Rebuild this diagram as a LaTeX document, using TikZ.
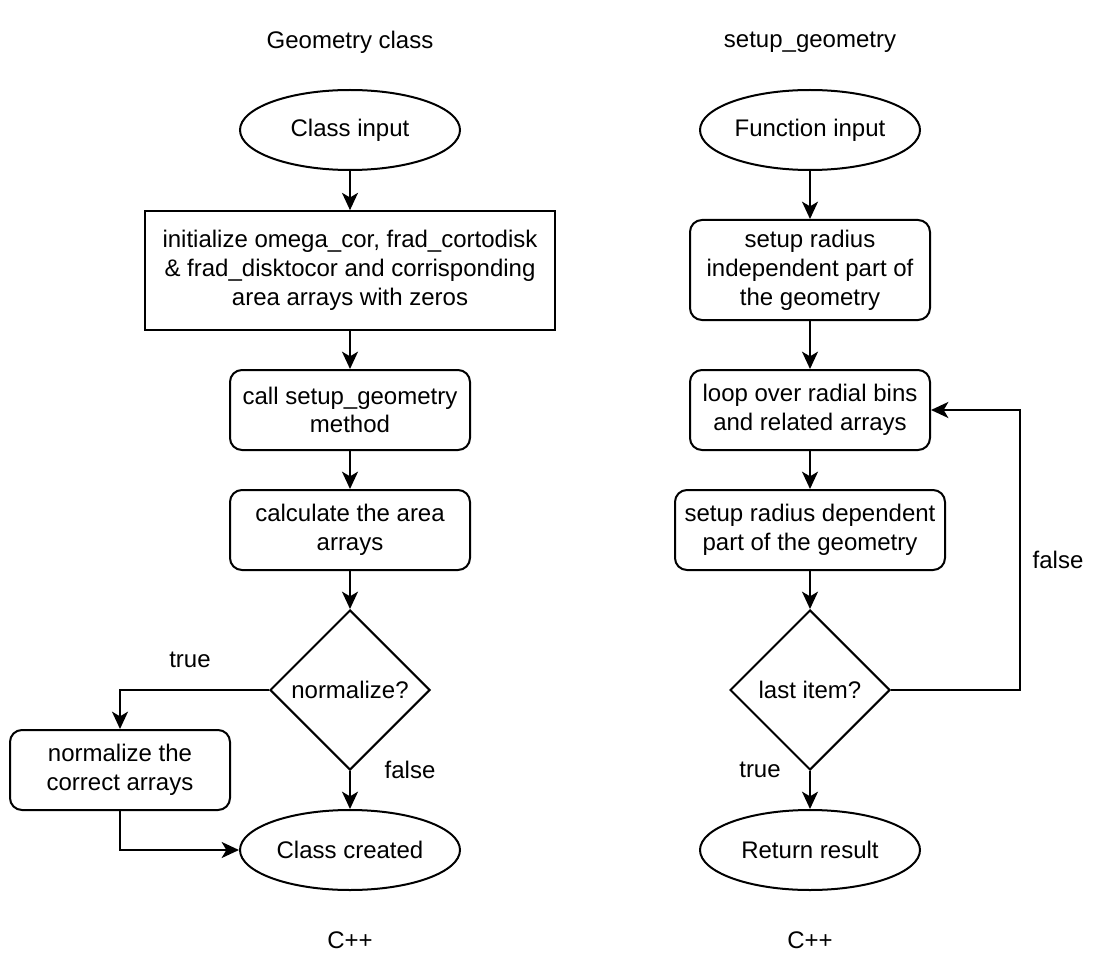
\documentclass[tikz,border=0pt]{standalone}
\usepackage{fontspec}
\setmainfont{Liberation Sans}
\usetikzlibrary{shapes.geometric,arrows.meta}
\tikzset{
  base/.style={draw=black, line width=1.5pt, align=center, inner sep=0pt, font=\fontsize{18pt}{21.6pt}\selectfont},
  term/.style={base, ellipse, minimum width=165pt, minimum height=60pt},
  procbox/.style={base, rectangle, rounded corners=9pt, minimum width=180pt, minimum height=60pt},
  plainbox/.style={base, rectangle, minimum width=308pt, minimum height=89pt},
  decision/.style={base, diamond, minimum width=120pt, minimum height=120pt},
  lbl/.style={inner sep=0pt, font=\fontsize{18pt}{21.6pt}\selectfont},
  conn/.style={line width=1.5pt, -{Stealth[length=13pt, width=12pt, inset=3.5pt]}}
}
\begin{document}
\begin{tikzpicture}[x=0.75pt,y=-0.75pt]
\useasboundingbox[fill=white] (0,0) rectangle (1112,980);
% titles
\node[lbl] (t1) at (350,42) {Geometry class};
\node[lbl] (t2) at (810,42) {setup\_geometry};
\node[lbl] (c1) at (350,940) {C++};
\node[lbl] (c2) at (810,940) {C++};
% left column
\node[term] (in1) at (350,130) {Class input};
\node[plainbox] (init) at (350,270.5) {initialize omega\_cor, frad\_cortodisk\\\& frad\_disktocor and corrisponding\\area arrays with zeros};
\node[procbox] (call) at (350,410) {call setup\_geometry\\method};
\node[procbox] (calc) at (350,530) {calculate the area\\arrays};
\node[decision] (norm) at (350,690) {normalize?};
\node[procbox, minimum width=165pt] (nbox) at (120,770) {normalize the\\correct arrays};
\node[term] (out1) at (350,850) {Class created};
\coordinate (k1) at (120,690);
\coordinate (k2) at (120,850);
\draw[conn] (in1) -- (init);
\draw[conn] (init) -- (call);
\draw[conn] (call) -- (calc);
\draw[conn] (calc) -- (norm);
\draw[conn] (norm.west) -- (k1) -- (nbox.north);
\draw[conn] (norm.south) -- (out1.north);
\draw[conn] (nbox.south) -- (k2) -- (out1.west);
\node[lbl] (ltrue) at (190,660) {true};
\node[lbl] (lfalse) at (410,770) {false};
% right column
\node[term] (in2) at (810,130) {Function input};
\node[procbox, minimum height=75pt] (indep) at (810,270) {setup radius\\independent part of\\the geometry};
\node[procbox] (loop) at (810,410) {loop over radial bins\\and related arrays};
\node[procbox, minimum width=202.5pt] (dep) at (810,530) {setup radius dependent\\part of the geometry};
\node[decision] (last) at (810,690) {last item?};
\node[term] (out2) at (810,850) {Return result};
\coordinate (k3) at (1020,690);
\coordinate (k4) at (1020,410);
\draw[conn] (in2) -- (indep);
\draw[conn] (indep) -- (loop);
\draw[conn] (loop) -- (dep);
\draw[conn] (dep) -- (last);
\draw[conn] (last.south) -- (out2.north);
\draw[conn] (last.east) -- (k3) -- (k4) -- (loop.east);
\node[lbl] (rtrue) at (760,770) {true};
\node[lbl] (rfalse) at (1058,560) {false};
\end{tikzpicture}
\end{document}
